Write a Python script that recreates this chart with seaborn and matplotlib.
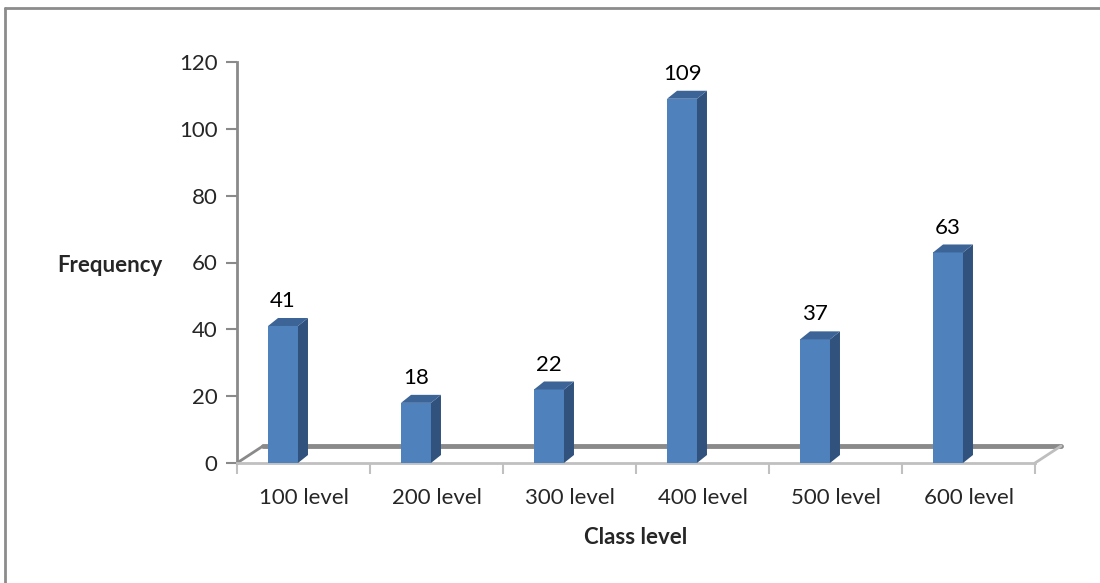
import matplotlib
matplotlib.use("Agg")
import matplotlib.pyplot as plt
import seaborn as sns
import pandas as pd
from matplotlib.patches import Polygon
from matplotlib.lines import Line2D

# Data
levels = ["100 level", "200 level", "300 level", "400 level", "500 level", "600 level"]
frequency = [41, 18, 22, 109, 37, 63]
y_ticks = [0, 20, 40, 60, 80, 100, 120]

df = pd.DataFrame({"level": levels, "frequency": frequency})

sns.set_style("white")
plt.rcParams["font.family"] = ["Lato", "DejaVu Sans"]

fig = plt.figure(figsize=(11, 5.83), dpi=100)
ax = fig.add_axes([237 / 1100, 1 - 463 / 583, 798 / 1100, 401 / 583])

front = "#4F81BD"
side = "#30527D"
top = "#3C6496"
fs = 16

sns.barplot(data=df, x="level", y="frequency", color=front, width=0.225,
            saturation=1, linewidth=0, ax=ax, zorder=3)

x0 = -0.346
ax.set_xlim(x0, x0 + len(levels))
ax.set_ylim(0, 120)
fig.canvas.draw()

# pixel -> data unit conversions for the fake 3d depth
px_x = 1 / (ax.transData.transform((1, 0))[0] - ax.transData.transform((0, 0))[0])
px_y = 1 / (ax.transData.transform((0, 1))[1] - ax.transData.transform((0, 0))[1])
dx, dy = 10 * px_x, 8 * px_y

# back floor
fx, fy = 26 * px_x, 17 * px_y
ax.add_line(Line2D([x0 + fx, x0 + len(levels) + fx], [fy, fy], color="#8A8A8A",
                   lw=3.5, zorder=1, clip_on=False))
ax.add_line(Line2D([x0, x0 + fx], [0, fy], color="#8A8A8A", lw=2, zorder=1, clip_on=False))
ax.add_line(Line2D([x0 + len(levels), x0 + len(levels) + fx], [0, fy], color="#BEBEBE",
                   lw=2, zorder=1, clip_on=False))

for p, v in zip(ax.patches, frequency):
    x, w, h = p.get_x(), p.get_width(), p.get_height()
    ax.add_patch(Polygon([(x + w, 0), (x + w + dx, dy), (x + w + dx, h + dy), (x + w, h)],
                         closed=True, facecolor=side, edgecolor="none", zorder=3))
    ax.add_patch(Polygon([(x, h), (x + dx, h + dy), (x + w + dx, h + dy), (x + w, h)],
                         closed=True, facecolor=top, edgecolor="none", zorder=3))
    ax.annotate(str(v), (x + w / 2, h + dy), xytext=(0, 5), textcoords="offset points",
                ha="center", va="bottom", fontsize=fs, color="black")

# axes styling
for s in ["top", "right"]:
    ax.spines[s].set_visible(False)
ax.spines["left"].set_color("#8A8A8A")
ax.spines["left"].set_linewidth(2)
ax.spines["bottom"].set_color("#C0C0C0")
ax.spines["bottom"].set_linewidth(2)

ax.set_yticks(y_ticks)
ax.tick_params(axis="y", left=True, length=8, width=1.5, color="#8A8A8A",
               labelsize=fs, pad=6)
ax.set_xticks([i + x0 + 0.5 for i in range(len(levels))])
ax.set_xticklabels(levels)
ax.set_xticks([x0 + i for i in range(len(levels) + 1)], minor=True)
ax.tick_params(axis="x", which="major", length=0, labelsize=fs, pad=18)
ax.tick_params(axis="x", which="minor", bottom=True, length=8, width=1.5, color="#C0C0C0")

ax.set_xlabel("")
ax.set_ylabel("")
fig.text(110 / 1100, 1 - 265 / 583, "Frequency", ha="center", va="center",
         fontsize=fs, fontweight="bold")
fig.text(636 / 1100, 1 - 537 / 583, "Class level", ha="center", va="center",
         fontsize=fs, fontweight="bold")

# outer chart border (top and left only visible)
fig.add_artist(Line2D([5 / 1100, 1], [1 - 8 / 583, 1 - 8 / 583], color="#8C8C8C", lw=2,
                      transform=fig.transFigure))
fig.add_artist(Line2D([5 / 1100, 5 / 1100], [0, 1 - 8 / 583], color="#8C8C8C", lw=2,
                      transform=fig.transFigure))

fig.savefig("out.png", dpi=100)
